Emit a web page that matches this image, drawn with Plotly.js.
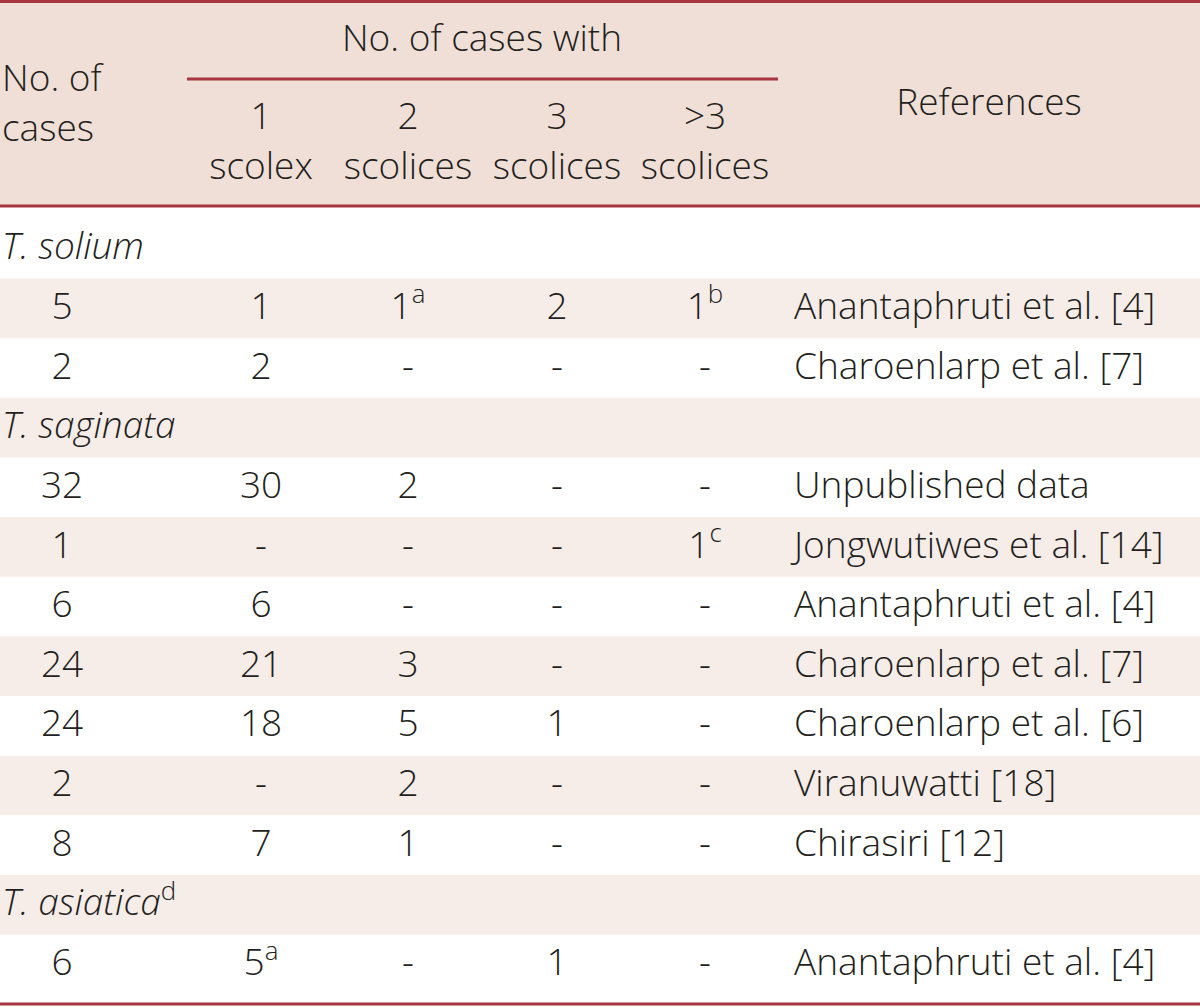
<!DOCTYPE html>
<html>
<head>
<meta charset="utf-8">
<script src="https://cdn.plot.ly/plotly-3.0.1.min.js"></script>
<style>html,body{margin:0;padding:0;background:#fff;}#chart{width:1200px;height:1007px;}</style>
</head>
<body>
<div id="chart"></div>
<script>
const groupHeader = "No. of cases with";
const firstColHeader = ["No. of", "cases"];
const subHeaderTop = ["1", "2", "3", ">3"];
const subHeaderBottom = ["scolex", "scolices", "scolices", "scolices"];
const refHeader = "References";

const species = ["T. solium", "T. saginata", "T. asiatica"];
const speciesNote = ["", "", "d"];
const rowSpecies = [0, 0, 1, 1, 1, 1, 1, 1, 1, 2];
const nCases = ["5", "2", "32", "1", "6", "24", "24", "2", "8", "6"];
const oneScolex = ["1", "2", "30", "-", "6", "21", "18", "-", "7", "5<sup>a</sup>"];
const twoScolices = ["1<sup>a</sup>", "-", "2", "-", "-", "3", "5", "2", "1", "-"];
const threeScolices = ["2", "-", "-", "-", "-", "-", "1", "-", "-", "1"];
const moreScolices = ["1<sup>b</sup>", "-", "-", "1<sup>c</sup>", "-", "-", "-", "-", "-", "-"];
const references = [
  "Anantaphruti et al. [4]", "Charoenlarp et al. [7]", "Unpublished data",
  "Jongwutiwes et al. [14]", "Anantaphruti et al. [4]", "Charoenlarp et al. [7]",
  "Charoenlarp et al. [6]", "Viranuwatti [18]", "Chirasiri [12]", "Anantaphruti et al. [4]"
];

// ---- Layout geometry & style ----
const W = 1200, H = 1007;
const FONT = "Open Sans";
const FS = 37;
const TXT = "#231f20";
const LINE = "#a8353f";
const HEAD_BG = "#f0dfd6";
const STRIPE = "#f6ece8";
const colX = {cases: 62, one: 261, two: 408, three: 557, more: 705, refLeft: 794, labelLeft: 2};
const firstRowY = 250, rowH = 59.65;

// Build displayed rows: species label rows + data rows
const tableRows = [];
let prev = -1;
rowSpecies.forEach((s, i) => {
  if (s !== prev) { tableRows.push({kind: "species", s: s}); prev = s; }
  tableRows.push({kind: "data", i: i});
});
const yOf = k => firstRowY + k * rowH;
const bandOf = k => 308.3 + (k - 1) * rowH;

const shapes = [];
shapes.push({type: "rect", xref: "x", yref: "y", x0: 0, x1: W, y0: 2, y1: 206, fillcolor: HEAD_BG, line: {width: 0}, layer: "below"});
tableRows.forEach((r, k) => {
  if (k % 2 === 1) {
    shapes.push({type: "rect", xref: "x", yref: "y", x0: 0, x1: W, y0: bandOf(k) - rowH / 2, y1: bandOf(k) + rowH / 2, fillcolor: STRIPE, line: {width: 0}, layer: "below"});
  }
});
const hline = (y, x0, x1, w) => ({type: "line", xref: "x", yref: "y", x0: x0, x1: x1, y0: y, y1: y, line: {color: LINE, width: w}});
shapes.push(hline(1.5, 0, W, 3));
shapes.push(hline(206, 0, W, 3));
shapes.push(hline(79, 187, 778, 3));
shapes.push(hline(1004, 0, W, 3));

const textTrace = (xs, ys, texts, pos) => ({
  type: "scatter", mode: "text", x: xs, y: ys, text: texts,
  textposition: pos, textfont: {family: FONT, size: FS, color: TXT, weight: 300},
  hoverinfo: "skip", showlegend: false, cliponaxis: false
});

const traces = [];
traces.push(textTrace([482], [42], [groupHeader], "middle center"));
traces.push(textTrace([colX.labelLeft, colX.labelLeft], [82, 132], firstColHeader, "middle right"));
const subX = [colX.one, colX.two, colX.three, colX.more];
traces.push(textTrace(subX, subX.map(() => 120), subHeaderTop, "middle center"));
traces.push(textTrace(subX, subX.map(() => 170), subHeaderBottom, "middle center"));
traces.push(textTrace([989], [106], [refHeader], "middle center"));

const spX = [], spY = [], spT = [];
const cols = [[colX.cases, nCases], [colX.one, oneScolex], [colX.two, twoScolices], [colX.three, threeScolices], [colX.more, moreScolices]];
const colPts = cols.map(() => ({x: [], y: [], t: []}));
const refPts = {x: [], y: [], t: []};
tableRows.forEach((r, k) => {
  const y = yOf(k);
  if (r.kind === "species") {
    spX.push(colX.labelLeft); spY.push(y);
    spT.push("<i>" + species[r.s] + "</i>" + (speciesNote[r.s] ? "<sup>" + speciesNote[r.s] + "</sup>" : ""));
  } else {
    cols.forEach((c, j) => { colPts[j].x.push(c[0]); colPts[j].y.push(y); colPts[j].t.push(c[1][r.i]); });
    refPts.x.push(colX.refLeft); refPts.y.push(y); refPts.t.push(references[r.i]);
  }
});
traces.push(textTrace(spX, spY, spT, "middle right"));
colPts.forEach(p => traces.push(textTrace(p.x, p.y, p.t, "middle center")));
traces.push(textTrace(refPts.x, refPts.y, refPts.t, "middle right"));

const layout = {
  width: W, height: H,
  margin: {l: 0, r: 0, t: 0, b: 0, pad: 0},
  paper_bgcolor: "#ffffff", plot_bgcolor: "#ffffff",
  xaxis: {range: [0, W], visible: false, fixedrange: true},
  yaxis: {range: [H, 0], visible: false, fixedrange: true},
  shapes: shapes,
  showlegend: false
};
Plotly.newPlot("chart", traces, layout, {displayModeBar: false, staticPlot: true});
</script>
</body>
</html>
